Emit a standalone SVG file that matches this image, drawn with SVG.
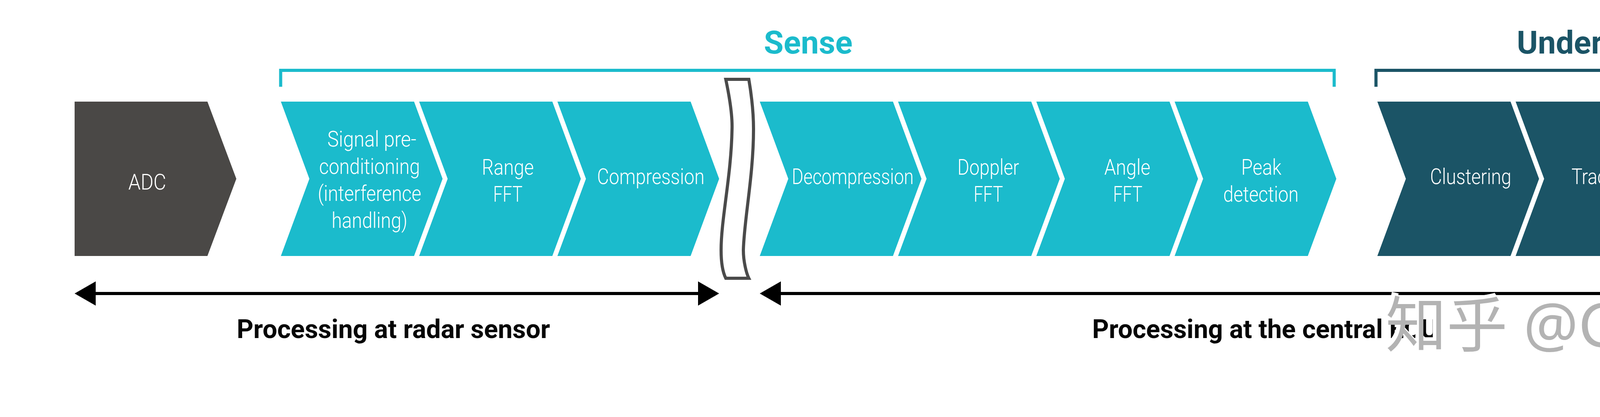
<svg xmlns="http://www.w3.org/2000/svg" width="5334" height="1067" viewBox="0 0 5334 1067">
<style>
.bg{fill:#ffffff}
.sense{fill:#1bbbcc}
.und{fill:#1b5466}
.act{fill:#cc2027}
.adc{fill:#4a4846}
.nt{font-family:Roboto,"Liberation Sans",sans-serif;font-size:56px;font-weight:300;fill:#ffffff;text-anchor:middle}
.hd{font-family:Roboto,"Liberation Sans",sans-serif;font-size:82px;font-weight:700;text-anchor:middle}
.lb{font-family:Roboto,"Liberation Sans",sans-serif;font-size:67px;font-weight:700;fill:#050505}
.br{fill:none;stroke-width:8}
.conn{stroke:#000;stroke-width:8;fill:none;marker-start:url(#ah);marker-end:url(#ah)}
.wm{font-family:"Noto Sans","Noto Sans CJK SC",sans-serif;font-size:155px}
</style>
<defs>
<marker id="ah" viewBox="0 0 54 62" refX="4" refY="31" markerWidth="54" markerHeight="62" markerUnits="userSpaceOnUse" orient="auto-start-reverse">
<path d="M0,0 L54,31 L0,62 Z" fill="#000"/>
</marker>
</defs>
<rect class="bg" x="0" y="0" width="5334" height="1067"/>

<g id="headers">
<text class="hd" x="2069" y="137" fill="#1bbbcc" textLength="227" lengthAdjust="spacingAndGlyphs">Sense</text>
<path class="br" stroke="#1bbbcc" d="M718.5,222 V180 H3415.5 V222"/>
<text class="hd" x="4096" y="137" fill="#1b5466" textLength="426" lengthAdjust="spacingAndGlyphs">Understand</text>
<path class="br" stroke="#1b5466" d="M3522.5,222 V180 H4648.5 V222"/>
<text class="hd" x="4960" y="138" fill="#cc2027" textLength="159" lengthAdjust="spacingAndGlyphs">ACT</text>
<path class="br" stroke="#cc2027" d="M4750.5,222 V180 H5167 V222"/>
</g>

<g id="adc">
<polygon class="adc" points="191,260 531,260 605,457.5 531,655 191,655"/>
<text class="nt" x="377" y="485" textLength="97" lengthAdjust="spacingAndGlyphs">ADC</text>
</g>
<g id="signal-preconditioning">
<polygon class="sense" points="719,260 1060,260 1133,457.5 1060,655 719,655 792,457.5"/>
<text class="nt" x="952" y="375" textLength="228" lengthAdjust="spacingAndGlyphs">Signal pre-</text>
<text class="nt" x="946" y="445" textLength="258" lengthAdjust="spacingAndGlyphs">conditioning</text>
<text class="nt" x="946" y="514" textLength="265" lengthAdjust="spacingAndGlyphs">(interference</text>
<text class="nt" x="946" y="583" textLength="194" lengthAdjust="spacingAndGlyphs">handling)</text>
</g>
<g id="range-fft">
<polygon class="sense" points="1073,260 1414,260 1487,457.5 1414,655 1073,655 1146,457.5"/>
<text class="nt" x="1300" y="447" textLength="133" lengthAdjust="spacingAndGlyphs">Range</text>
<text class="nt" x="1300" y="516" textLength="75" lengthAdjust="spacingAndGlyphs">FFT</text>
</g>
<g id="compression">
<polygon class="sense" points="1427,260 1768,260 1841,457.5 1768,655 1427,655 1500,457.5"/>
<text class="nt" x="1666" y="471" textLength="275" lengthAdjust="spacingAndGlyphs">Compression</text>
</g>
<g id="break">
<path d="M1858,203 C1870,260 1875,300 1874,330 C1872,450 1846,560 1846,640 C1846,680 1852,700 1858,712 L1917,712 C1911,700 1903,670 1903,640 C1905,560 1929,450 1929,330 C1929,290 1925,250 1917,203 Z" fill="#ffffff" stroke="#4a4a4a" stroke-width="8"/>
</g>
<g id="decompression">
<polygon class="sense" points="1945,260 2286,260 2359,457.5 2286,655 1945,655 2018,457.5"/>
<text class="nt" x="2183" y="471" textLength="312" lengthAdjust="spacingAndGlyphs">Decompression</text>
</g>
<g id="doppler-fft">
<polygon class="sense" points="2299,260 2640,260 2713,457.5 2640,655 2299,655 2372,457.5"/>
<text class="nt" x="2530" y="447" textLength="158" lengthAdjust="spacingAndGlyphs">Doppler</text>
<text class="nt" x="2530" y="516" textLength="75" lengthAdjust="spacingAndGlyphs">FFT</text>
</g>
<g id="angle-fft">
<polygon class="sense" points="2653,260 2994,260 3067,457.5 2994,655 2653,655 2726,457.5"/>
<text class="nt" x="2886" y="447" textLength="118" lengthAdjust="spacingAndGlyphs">Angle</text>
<text class="nt" x="2887" y="516" textLength="75" lengthAdjust="spacingAndGlyphs">FFT</text>
</g>
<g id="peak-detection">
<polygon class="sense" points="3007,260 3348,260 3421,457.5 3348,655 3007,655 3080,457.5"/>
<text class="nt" x="3229" y="447" textLength="103" lengthAdjust="spacingAndGlyphs">Peak</text>
<text class="nt" x="3228" y="516" textLength="193" lengthAdjust="spacingAndGlyphs">detection</text>
</g>
<g id="clustering">
<polygon class="und" points="3526,260 3867,260 3940,457.5 3867,655 3526,655 3599,457.5"/>
<text class="nt" x="3765" y="471" textLength="208" lengthAdjust="spacingAndGlyphs">Clustering</text>
</g>
<g id="tracking">
<polygon class="und" points="3880,260 4221,260 4294,457.5 4221,655 3880,655 3953,457.5"/>
<text class="nt" x="4111" y="471" textLength="176" lengthAdjust="spacingAndGlyphs">Tracking</text>
</g>
<g id="classification">
<polygon class="und" points="4234,260 4575,260 4648,457.5 4575,655 4234,655 4307,457.5"/>
<text class="nt" x="4470" y="471" textLength="281" lengthAdjust="spacingAndGlyphs">Classification</text>
</g>
<g id="radar-function">
<polygon class="act" points="4752,260 5093,260 5166,457.5 5093,655 4752,655 4825,457.5"/>
<text class="nt" x="4993" y="447" textLength="120" lengthAdjust="spacingAndGlyphs">Radar</text>
<text class="nt" x="4992" y="516" textLength="170" lengthAdjust="spacingAndGlyphs">function</text>
</g>

<g id="connectors">
<path class="conn" d="M241,751 H1791"/>
<path class="conn" d="M1995,751 H4599"/>
<path class="conn" d="M4802,751 H5117"/>
</g>

<g id="labels">
<text class="lb" x="1007" y="865" text-anchor="middle" textLength="802" lengthAdjust="spacingAndGlyphs">Processing at radar sensor</text>
<text class="lb" x="2796" y="865" textLength="885" lengthAdjust="spacingAndGlyphs">Processing at the central ECU</text>
<text class="lb" x="4960" y="864" text-anchor="middle" textLength="460" lengthAdjust="spacingAndGlyphs">Action decision</text>
<text class="lb" x="4959" y="945" text-anchor="middle" textLength="584" lengthAdjust="spacingAndGlyphs">taken by ADAS ECU</text>
</g>

<g id="watermark">
<text class="wm" x="3541" y="881" fill="#ffffff" stroke="#ffffff" stroke-width="6" textLength="1649" lengthAdjust="spacingAndGlyphs">知乎 @Godspeed Zhao</text>
<text class="wm" x="3547" y="887" fill="#b3b3b3" textLength="1649" lengthAdjust="spacingAndGlyphs">知乎 @Godspeed Zhao</text>
</g>
</svg>
